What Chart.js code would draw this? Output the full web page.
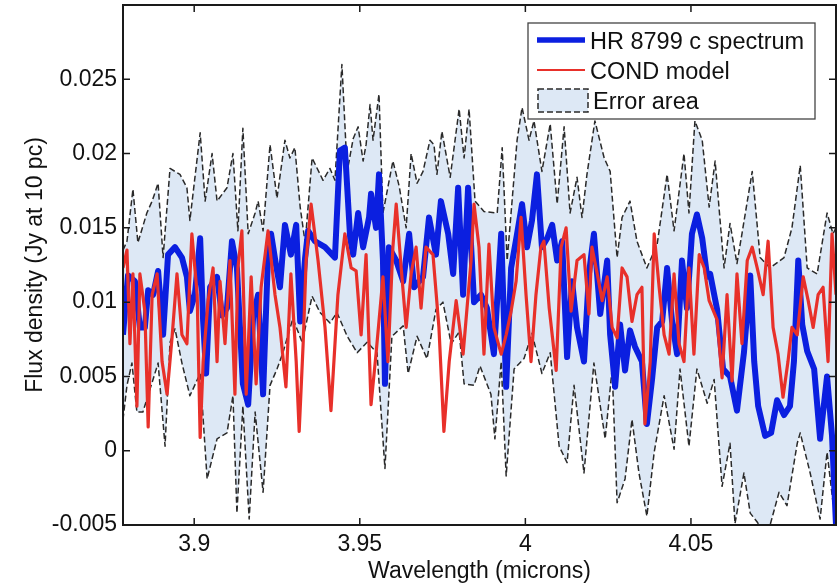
<!DOCTYPE html>
<html>
<head>
<meta charset="utf-8">
<script src="https://cdn.jsdelivr.net/npm/chart.js@4/dist/chart.umd.min.js"></script>
<style>
  html, body { margin: 0; padding: 0; background: #fff; }
  canvas { display: block; }
</style>
</head>
<body>
<canvas id="spectrum" width="837" height="585"></canvas>
<script>
// HR 8799 c spectrum (microns, Jy at 10 pc)
var wlBlue = [
  3.8785,3.8800,3.8821,3.8836,3.8851,3.8861,3.8876,3.8891,3.8906,3.8921,
  3.8942,3.8963,3.8978,3.8987,3.9002,3.9018,3.9027,3.9036,3.9048,3.9069,
  3.9084,3.9099,3.9114,3.9129,3.9147,3.9163,3.9178,3.9193,3.9208,3.9223,
  3.9232,3.9247,3.9259,3.9274,3.9292,3.9308,3.9320,3.9335,3.9344,3.9365,
  3.9395,3.9425,3.9440,3.9455,3.9471,3.9480,3.9495,3.9510,3.9528,3.9534,
  3.9549,3.9558,3.9570,3.9576,3.9588,3.9610,3.9631,3.9649,3.9664,3.9691,
  3.9709,3.9730,3.9745,3.9767,3.9782,3.9797,3.9812,3.9827,3.9845,3.9866,
  3.9884,3.9905,3.9927,3.9942,3.9957,3.9975,3.9990,4.0005,4.0020,4.0035,
  4.0050,4.0066,4.0081,4.0096,4.0111,4.0126,4.0141,4.0156,4.0177,4.0192,
  4.0207,4.0226,4.0247,4.0256,4.0271,4.0286,4.0301,4.0316,4.0331,4.0352,
  4.0367,4.0383,4.0398,4.0413,4.0428,4.0443,4.0458,4.0473,4.0488,4.0503,
  4.0518,4.0534,4.0549,4.0558,4.0579,4.0597,4.0618,4.0639,4.0660,4.0679,
  4.0691,4.0703,4.0724,4.0742,4.0760,4.0781,4.0799,4.0811,4.0824,4.0836,
  4.0851,4.0872,4.0890,4.0911,4.0926,4.0938
];
var fluxBlue = [
  .0078,.0118,.0114,.0083,.0083,.0108,.0105,.0121,.0078,.0132,
  .0137,.0130,.0117,.0094,.0105,.0143,.0087,.0052,.0110,.0117,
  .0091,.0096,.0141,.0123,.0045,.0031,.0090,.0105,.0038,.0132,
  .0146,.0125,.0110,.0152,.0132,.0152,.0087,.0130,.0148,.0141,
  .0137,.0130,.0202,.0204,.0143,.0132,.0160,.0137,.0157,.0173,
  .0150,.0186,.0128,.0045,.0137,.0128,.0114,.0146,.0110,.0117,
  .0157,.0132,.0168,.0146,.0119,.0177,.0105,.0177,.0100,.0105,
  .0096,.0065,.0146,.0043,.0123,.0146,.0166,.0137,.0155,.0186,
  .0137,.0143,.0152,.0128,.0141,.0063,.0114,.0083,.0060,.0119,
  .0146,.0092,.0128,.0078,.0043,.0085,.0054,.0081,.0070,.0060,
  .0018,.0049,.0083,.0087,.0123,.0087,.0065,.0128,.0096,.0146,
  .0159,.0143,.0117,.0119,.0095,.0055,.0050,.0027,.0066,.0118,
  .0060,.0030,.0010,.0012,.0034,.0024,.0030,.0060,.0128,.0085,
  .0067,.0055,.0008,.0050,.0010,-.0050
];

// COND model
var wlRed = [
  3.8785,3.8797,3.8806,3.8815,3.8827,3.8836,3.8851,3.8861,3.8873,3.8888,
  3.8903,3.8918,3.8933,3.8948,3.8963,3.8978,3.8993,3.9009,3.9018,3.9027,
  3.9042,3.9057,3.9069,3.9078,3.9093,3.9108,3.9123,3.9132,3.9144,3.9157,
  3.9172,3.9187,3.9202,3.9223,3.9244,3.9259,3.9277,3.9292,3.9308,3.9317,
  3.9329,3.9338,3.9353,3.9374,3.9395,3.9413,3.9434,3.9455,3.9474,3.9489,
  3.9504,3.9519,3.9534,3.9549,3.9570,3.9585,3.9600,3.9610,3.9625,3.9640,
  3.9655,3.9670,3.9685,3.9700,3.9721,3.9739,3.9754,3.9770,3.9791,3.9812,
  3.9836,3.9845,3.9860,3.9875,3.9890,3.9905,3.9927,3.9942,3.9957,3.9972,
  3.9987,4.0002,4.0017,4.0032,4.0047,4.0056,4.0072,4.0093,4.0108,4.0123,
  4.0138,4.0156,4.0177,4.0192,4.0201,4.0217,4.0232,4.0247,4.0262,4.0277,
  4.0292,4.0307,4.0322,4.0337,4.0352,4.0361,4.0377,4.0389,4.0404,4.0419,
  4.0434,4.0449,4.0464,4.0479,4.0494,4.0509,4.0525,4.0540,4.0555,4.0579,
  4.0594,4.0609,4.0624,4.0639,4.0654,4.0670,4.0685,4.0700,4.0718,4.0733,
  4.0748,4.0763,4.0778,4.0793,4.0805,4.0821,4.0839,4.0854,4.0869,4.0884,
  4.0899,4.0914,4.0926,4.0938
];
var fluxRed = [
  .0123,.0135,.0072,.0119,.0030,.0119,.0094,.0016,.0105,.0119,
  .0060,.0038,.0076,.0119,.0078,.0072,.0146,.0105,.0009,.0060,
  .0101,.0123,.0060,.0114,.0072,.0128,.0038,.0123,.0148,.0038,
  .0117,.0045,.0110,.0148,.0105,.0083,.0043,.0119,.0060,.0013,
  .0072,.0128,.0166,.0128,.0083,.0027,.0105,.0146,.0123,.0121,
  .0078,.0132,.0031,.0065,.0117,.0060,.0137,.0166,.0123,.0083,
  .0119,.0137,.0096,.0137,.0132,.0083,.0013,.0060,.0101,.0065,
  .0128,.0166,.0137,.0065,.0139,.0083,.0065,.0078,.0094,.0114,
  .0157,.0105,.0060,.0105,.0137,.0141,.0096,.0054,.0137,.0150,
  .0094,.0128,.0132,.0092,.0137,.0119,.0101,.0117,.0083,.0076,
  .0123,.0117,.0087,.0105,.0110,.0018,.0060,.0146,.0110,.0078,
  .0065,.0119,.0072,.0060,.0123,.0065,.0132,.0123,.0101,.0088,
  .0049,.0105,.0047,.0119,.0072,.0128,.0137,.0123,.0105,.0141,
  .0083,.0065,.0036,.0060,.0083,.0078,.0117,.0101,.0083,.0105,
  .0110,.0060,.0146,.0105
];

// error area, upper and lower bounds
var wlUpper = [
  3.8785,3.8797,3.8815,3.8830,3.8857,3.8873,3.8891,3.8906,3.8927,3.8957,
  3.8978,3.8987,3.9018,3.9033,3.9054,3.9069,3.9099,3.9117,3.9132,3.9147,
  3.9163,3.9184,3.9193,3.9208,3.9229,3.9250,3.9274,3.9289,3.9304,3.9320,
  3.9335,3.9356,3.9389,3.9410,3.9425,3.9446,3.9462,3.9480,3.9495,3.9510,
  3.9519,3.9531,3.9540,3.9558,3.9570,3.9600,3.9619,3.9640,3.9655,3.9673,
  3.9691,3.9712,3.9724,3.9733,3.9748,3.9773,3.9800,3.9815,3.9830,3.9848,
  3.9875,3.9915,3.9930,3.9945,3.9975,3.9990,4.0011,4.0026,4.0050,4.0075,
  4.0096,4.0117,4.0135,4.0156,4.0171,4.0186,4.0210,4.0238,4.0256,4.0277,
  4.0292,4.0316,4.0337,4.0367,4.0398,4.0428,4.0449,4.0479,4.0494,4.0512,
  4.0534,4.0555,4.0573,4.0600,4.0618,4.0639,4.0654,4.0685,4.0709,4.0739,
  4.0781,4.0805,4.0830,4.0851,4.0881,4.0911,4.0929,4.0938
];
var errUpper = [
  .0135,.0141,.0176,.0140,.0160,.0168,.0180,.0130,.0190,.0186,
  .0177,.0155,.0214,.0168,.0200,.0168,.0177,.0200,.0148,.0217,
  .0146,.0160,.0168,.0148,.0206,.0170,.0209,.0197,.0204,.0164,
  .0140,.0197,.0182,.0190,.0182,.0260,.0188,.0210,.0218,.0195,
  .0206,.0233,.0209,.0240,.0160,.0195,.0178,.0150,.0200,.0180,
  .0188,.0209,.0206,.0186,.0215,.0184,.0230,.0197,.0230,.0168,
  .0161,.0160,.0204,.0128,.0209,.0231,.0209,.0222,.0188,.0220,
  .0166,.0218,.0160,.0184,.0157,.0186,.0222,.0197,.0188,.0130,
  .0157,.0168,.0141,.0123,.0139,.0186,.0148,.0200,.0160,.0222,
  .0209,.0164,.0195,.0123,.0153,.0126,.0146,.0188,.0130,.0123,
  .0130,.0150,.0192,.0123,.0119,.0160,.0146,.0150
];
var wlLower = [
  3.8785,3.8797,3.8812,3.8827,3.8845,3.8873,3.8891,3.8912,3.8927,3.8942,
  3.8963,3.8987,3.9018,3.9039,3.9069,3.9099,3.9117,3.9129,3.9147,3.9166,
  3.9184,3.9208,3.9229,3.9250,3.9268,3.9298,3.9326,3.9356,3.9380,3.9410,
  3.9431,3.9462,3.9492,3.9522,3.9552,3.9576,3.9597,3.9631,3.9646,3.9673,
  3.9703,3.9730,3.9751,3.9776,3.9800,3.9815,3.9845,3.9863,3.9896,3.9908,
  3.9927,3.9942,3.9966,3.9996,4.0020,4.0050,4.0075,4.0102,4.0126,4.0147,
  4.0177,4.0207,4.0241,4.0262,4.0277,4.0301,4.0322,4.0343,4.0367,4.0389,
  4.0419,4.0449,4.0467,4.0494,4.0518,4.0549,4.0570,4.0594,4.0618,4.0633,
  4.0660,4.0679,4.0700,4.0721,4.0739,4.0766,4.0790,4.0821,4.0830,4.0860,
  4.0890,4.0911,4.0929,4.0938
];
var errLower = [
  .0021,.0044,.0059,.0026,.0026,.0046,.0059,.0003,.0073,.0082,
  .0059,.0037,.0052,-.0019,.0008,.0012,.0037,-.0042,.0030,-.0046,
  .0026,-.0028,.0044,.0055,.0066,.0089,.0073,.0104,.0093,.0086,
  .0093,.0077,.0066,.0073,.0066,-.0012,.0077,.0084,.0052,.0077,
  .0062,.0095,.0100,.0072,.0080,.0045,.0044,.0057,.0038,.0008,
  .0060,-.0017,.0055,.0062,.0079,.0052,.0066,.0003,-.0008,.0044,
  -.0015,.0059,.0008,.0055,-.0035,-.0019,.0021,-.0015,-.0044,-.0001,
  .0037,.0001,.0055,.0003,.0055,.0032,.0048,-.0024,.0005,-.0049,
  -.0015,-.0042,-.0048,-.0055,-.0050,-.0028,-.0037,.0005,.0012,-.0015,
  -.0046,-.0001,-.0035,-.0030
];

var xTicks = [3.9, 3.95, 4, 4.05];
var yTicks = [-0.005, 0, 0.005, 0.01, 0.015, 0.02, 0.025];

function pairs(xs, ys) {
  return xs.map(function (x, i) { return {x: x, y: ys[i]}; });
}

var FONT = 'Liberation Sans, Arial, Helvetica, sans-serif';
var BLUE = '#0b1fe0';
var RED = '#e8302a';
var DASH = '#2a2a2a';
var AREA = '#dde8f5';
var TICK = 7;

// box round the plot with inward ticks on all four sides, matlab style
var frameTicks = {
  id: 'frameTicks',
  afterDatasetsDraw: function (chart) {
    var ctx = chart.ctx, a = chart.chartArea;
    var xs = chart.scales.x, ys = chart.scales.y;
    ctx.save();
    ctx.strokeStyle = '#1a1a1a';
    ctx.lineWidth = 1.5;
    ctx.beginPath();
    xs.ticks.forEach(function (t) {
      var p = xs.getPixelForValue(t.value);
      ctx.moveTo(p, a.bottom); ctx.lineTo(p, a.bottom - TICK);
      ctx.moveTo(p, a.top); ctx.lineTo(p, a.top + TICK);
    });
    ys.ticks.forEach(function (t) {
      var p = ys.getPixelForValue(t.value);
      ctx.moveTo(a.left, p); ctx.lineTo(a.left + TICK, p);
      ctx.moveTo(a.right, p); ctx.lineTo(a.right - TICK, p);
    });
    ctx.stroke();
    ctx.lineWidth = 2;
    ctx.strokeRect(a.left, a.top, a.right - a.left, a.bottom - a.top);
    ctx.restore();
  }
};

// legend box in the upper right corner
var boxLegend = {
  id: 'boxLegend',
  afterDraw: function (chart) {
    var ctx = chart.ctx;
    var sets = chart.data.datasets;
    ctx.save();
    ctx.fillStyle = '#fff';
    ctx.fillRect(528, 23, 287, 96);
    ctx.strokeStyle = '#444';
    ctx.lineWidth = 1.3;
    ctx.strokeRect(528, 23, 287, 96);

    ctx.lineCap = 'butt';
    ctx.strokeStyle = BLUE; ctx.lineWidth = 5.5;
    ctx.beginPath(); ctx.moveTo(537, 40); ctx.lineTo(585, 40); ctx.stroke();
    ctx.strokeStyle = RED; ctx.lineWidth = 2.2;
    ctx.beginPath(); ctx.moveTo(537, 70); ctx.lineTo(585, 70); ctx.stroke();
    ctx.fillStyle = AREA;
    ctx.fillRect(538, 89, 50, 23);
    ctx.strokeStyle = DASH; ctx.lineWidth = 1.5;
    ctx.setLineDash([6, 3]);
    ctx.strokeRect(538, 89, 50, 23);
    ctx.setLineDash([]);

    ctx.fillStyle = '#111';
    ctx.font = '23.5px ' + FONT;
    ctx.textBaseline = 'alphabetic';
    ctx.fillText(sets[2].label, 590, 49);
    ctx.fillText(sets[3].label, 590, 79);
    ctx.fillText(sets[0].label, 593, 109);
    ctx.restore();
  }
};

var ctx = document.getElementById('spectrum').getContext('2d');
var chart = new Chart(ctx, {
  type: 'line',
  data: {
    datasets: [
      {
        label: 'Error area',
        data: pairs(wlUpper, errUpper),
        borderColor: DASH, borderWidth: 1.5, borderDash: [6, 3],
        backgroundColor: AREA, fill: '+1', order: 4
      },
      {
        label: 'Error lower',
        data: pairs(wlLower, errLower),
        borderColor: DASH, borderWidth: 1.5, borderDash: [6, 3],
        fill: false, order: 3
      },
      {
        label: 'HR 8799 c spectrum',
        data: pairs(wlBlue, fluxBlue),
        borderColor: BLUE, borderWidth: 6, fill: false, order: 2
      },
      {
        label: 'COND model',
        data: pairs(wlRed, fluxRed),
        borderColor: RED, borderWidth: 3.2, fill: false, order: 1
      }
    ]
  },
  options: {
    responsive: false,
    animation: false,
    events: [],
    layout: { padding: { left: 0, right: 1, top: 5, bottom: 0 } },
    elements: {
      point: { radius: 0 },
      line: { tension: 0, borderJoinStyle: 'round' }
    },
    plugins: {
      legend: { display: false },
      tooltip: { enabled: false }
    },
    scales: {
      x: {
        type: 'linear',
        min: 3.8785, max: 4.0938,
        grid: { display: false, drawTicks: false, tickLength: 0 },
        border: { display: false },
        afterBuildTicks: function (s) {
          s.ticks = xTicks.map(function (v) { return {value: v}; });
        },
        afterFit: function (s) { s.height = 60; s.paddingLeft = 0; s.paddingRight = 0; },
        ticks: {
          padding: 6, color: '#111',
          font: { family: FONT, size: 23 },
          maxRotation: 0,
          callback: function (v) { return String(+v.toFixed(3)); }
        },
        title: {
          display: true, text: 'Wavelength (microns)', color: '#111',
          font: { family: FONT, size: 23 },
          padding: { top: 0, bottom: 0 }
        }
      },
      y: {
        type: 'linear',
        min: -0.005, max: 0.03,
        grid: { display: false, drawTicks: false, tickLength: 0 },
        border: { display: false },
        afterBuildTicks: function (s) {
          s.ticks = yTicks.map(function (v) { return {value: v}; });
        },
        afterFit: function (s) { s.width = 123; s.paddingTop = 0; s.paddingBottom = 0; },
        ticks: {
          padding: 6, color: '#111',
          font: { family: FONT, size: 23 },
          callback: function (v) { return String(+v.toFixed(4)); }
        },
        title: {
          display: true, text: 'Flux density (Jy at 10 pc)', color: '#111',
          font: { family: FONT, size: 23 },
          padding: { top: 22, bottom: 0 }
        }
      }
    }
  },
  plugins: [frameTicks, boxLegend]
});
</script>
</body>
</html>
